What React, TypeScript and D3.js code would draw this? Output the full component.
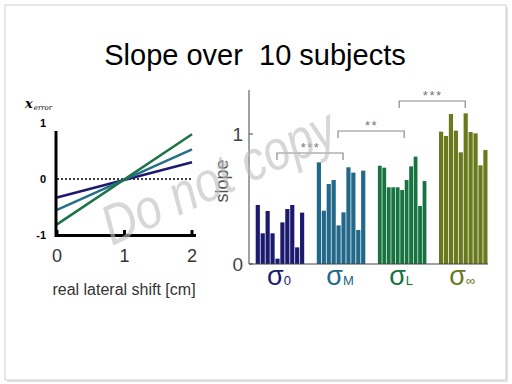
import * as d3 from 'd3';

// left panel: fitted lines, value at 0 cm and at 2 cm
const shiftTicks = [0, 1, 2];
const errTicks = [1, 0, -1];
const lineNames = ['sigma0', 'sigmaM', 'sigmaL'];
const lineAt0 = [-0.33, -0.55, -0.81];
const lineAt2 = [0.30, 0.53, 0.80];
const lineColors = ['#1f1a6e', '#256e8a', '#1b7446'];

// right panel: slope per subject
const groups = ['0', 'M', 'L', '∞'];
const slopeS0 = [0.454, 0.236, 0.408, 0.236, 0.041, 0.32, 0.423, 0.454, 0.128, 0.395];
const slopeSM = [0.782, 0.41, 0.615, 0.646, 0.297, 0.397, 0.744, 0.703, 0.262, 0.718];
const slopeSL = [0.756, 0.741, 0.59, 0.59, 0.59, 0.569, 0.646, 0.751, 0.826, 0.446, 0.638];
const slopeSInf = [1.018, 0.985, 1.154, 1.026, 0.859, 1.159, 1.015, 1.005, 0.759, 0.877];
const groupColors = ['#1c1a6e', '#22688a', '#177340', '#687a1c'];
const slopeTicks = [0, 1];

// significance brackets: [from group, to group, height in slope units, stars]
const brackets: [number, number, number, string][] = [
  [0, 1, 0.854, '***'],
  [1, 2, 1.023, '**'],
  [2, 3, 1.254, '***'],
];

export default function App() {
  const slopes = [slopeS0, slopeSM, slopeSL, slopeSInf];

  // left panel scales
  const xs = d3.scaleLinear().domain([0, 2]).range([57, 192]);
  const ys = d3.scaleLinear().domain([-1, 1]).range([235, 123]);
  const line = d3.line<[number, number]>().x(d => xs(d[0])).y(d => ys(d[1]));

  // right panel scales
  const gx = d3.scaleBand<number>().domain(d3.range(groups.length)).range([255.7, 487.5]).paddingInner(0.206);
  const sy = d3.scaleLinear().domain([0, 1]).range([264, 134]);
  const mid = (i: number) => gx(i)! + gx.bandwidth() / 2;

  const sans = 'Liberation Sans, Arial, sans-serif';

  return (
    <div style={{ position: 'fixed', left: 0, top: 0 }}>
      <svg width={512} height={384} style={{ display: 'block', background: '#fff' }}>
        {/* slide frame */}
        <rect x={7} y={7} width={501} height={375} fill="#e2e2e2" />
        <rect x={5} y={5} width={501} height={375} fill="#fff" stroke="#d0d0d0" strokeWidth={1} />

        <text x={255} y={65} textAnchor="middle" fontFamily={sans} fontSize={29} style={{ whiteSpace: 'pre' }}>
          {'Slope over  10 subjects'}
        </text>

        {/* left panel */}
        <text x={25} y={108} fontFamily="DejaVu Serif, serif" fontStyle="italic" fontWeight="bold" fontSize={13}>
          x
          <tspan dx={1} dy={2} fontSize={7} fontWeight="normal">error</tspan>
        </text>
        {errTicks.map(t => (
          <text key={t} x={46} y={ys(t) + 4} textAnchor="end" fontFamily={sans} fontWeight="bold" fontSize={11}>
            {t}
          </text>
        ))}
        <line x1={xs(0)} x2={xs(2)} y1={ys(0)} y2={ys(0)} stroke="#000" strokeWidth={1.5} strokeDasharray="2 2" />
        {lineNames.map((n, i) => (
          <path key={n} d={line([[0, lineAt0[i]], [2, lineAt2[i]]])!} fill="none" stroke={lineColors[i]} strokeWidth={2.5} />
        ))}
        <line x1={56} x2={56} y1={131} y2={237} stroke="#000" strokeWidth={3} />
        <line x1={55} x2={196} y1={235.5} y2={235.5} stroke="#000" strokeWidth={3} />
        {shiftTicks.map(t => (
          <g key={t}>
            <line x1={xs(t)} x2={xs(t)} y1={235} y2={230} stroke="#000" strokeWidth={3} />
            <text x={xs(t)} y={262} textAnchor="middle" fontFamily={sans} fontSize={18} fill="#333">
              {t}
            </text>
          </g>
        ))}
        <text x={124} y={295} textAnchor="middle" fontFamily={sans} fontSize={16} fill="#333">
          real lateral shift [cm]
        </text>

        {/* right panel */}
        {slopes.map((vals, g) => {
          const inner = d3.scaleBand<number>().domain(d3.range(vals.length)).range([0, gx.bandwidth()]).paddingInner(0.15);
          return (
            <g key={g} transform={`translate(${gx(g)},0)`}>
              {vals.map((v, i) => (
                <rect key={i} x={inner(i)} y={sy(v)} width={inner.bandwidth()} height={sy(0) - sy(v)} fill={groupColors[g]} />
              ))}
            </g>
          );
        })}
        <line x1={249} x2={249} y1={90} y2={264} stroke="#444" strokeWidth={1} />
        <line x1={249} x2={488} y1={264} y2={264} stroke="#444" strokeWidth={1} />
        {slopeTicks.map(t => (
          <g key={t}>
            <line x1={249} x2={253} y1={sy(t)} y2={sy(t)} stroke="#444" />
            <text x={243} y={sy(t) + 7} textAnchor="end" fontFamily={sans} fontSize={19} fill="#444">
              {t}
            </text>
          </g>
        ))}
        <text transform="translate(228,181) rotate(-90)" textAnchor="middle" fontFamily={sans} fontSize={18} fill="#555">
          slope
        </text>
        {groups.map((s, g) => (
          <text key={s} x={mid(g) - 1} y={285} textAnchor="middle" fontFamily={sans} fontSize={27} fill={groupColors[g]}>
            σ<tspan fontSize={13}>{s}</tspan>
          </text>
        ))}
        {brackets.map(([a, b, h, stars], k) => {
          const y = sy(h);
          return (
            <g key={k} stroke="#8a8a8a" fill="none">
              <path d={`M${mid(a) - 3},${y + 7}V${y}H${mid(b) + 2}V${y + 7}`} strokeWidth={1.2} />
              <text x={(mid(a) + mid(b)) / 2} y={y - 1} textAnchor="middle" fontFamily={sans} fontSize={13}
                letterSpacing={1.5} fill="#777" stroke="none">
                {stars}
              </text>
            </g>
          );
        })}

        {/* watermark */}
        <text transform="translate(112,246) rotate(-24.5) scale(0.84,1)" fontFamily={sans} fontStyle="italic" fontSize={56}
          fill="#bdbdbd" fillOpacity={0.6}>
          Do not copy
        </text>
      </svg>
    </div>
  );
}
